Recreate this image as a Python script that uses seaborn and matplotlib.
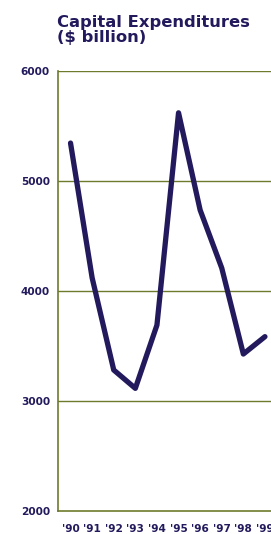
"""Capital expenditures line chart, 1990-1999."""

import matplotlib.pyplot as plt
import pandas as pd
import seaborn as sns

YEARS = ["'90", "'91", "'92", "'93", "'94", "'95", "'96", "'97", "'98", "'99"]
CAPEX = [5345, 4120, 3282, 3115, 3690, 5620, 4736, 4209, 3427, 3585]
Y_TICKS = [2000, 3000, 4000, 5000, 6000]

NAVY = "#221a5c"
OLIVE = "#6e7a2c"


def main() -> None:
    sns.set_theme(style="white")
    plt.rcParams["font.family"] = ["DejaVu Sans"]

    df = pd.DataFrame({"pos": range(len(YEARS)), "capex": CAPEX})

    fig = plt.figure(figsize=(2.71, 5.34), dpi=100)
    ax = fig.add_axes([58 / 271, 1 - 511 / 534, 1 - 58 / 271, (511 - 71) / 534])
    sns.lineplot(data=df, x="pos", y="capex", ax=ax, color=NAVY, linewidth=3.8,
                 solid_capstyle="round", solid_joinstyle="round")

    ax.set_ylim(2000, 6000)
    ax.set_xlim(-0.58, 9.28)
    ax.set_yticks(Y_TICKS)
    ax.set_xticks(range(len(YEARS)))
    ax.set_xticklabels(YEARS)
    ax.set_xlabel("")
    ax.set_ylabel("")

    for y in Y_TICKS[1:]:
        ax.axhline(y, color=OLIVE, linewidth=1.0, zorder=0)

    for side in ["top", "right"]:
        ax.spines[side].set_visible(False)
    for side in ["left", "bottom"]:
        ax.spines[side].set_color(OLIVE)
        ax.spines[side].set_linewidth(1.2)

    ax.tick_params(axis="x", direction="out", length=6, width=1, color=OLIVE,
                   pad=3.5, labelsize=7.6, labelcolor=NAVY)
    ax.tick_params(axis="y", length=0, pad=5.8, labelsize=7.6, labelcolor=NAVY)
    for lab in ax.get_xticklabels() + ax.get_yticklabels():
        lab.set_fontweight("bold")

    fig.text(57 / 271, 1 - 15 / 534, "Capital Expenditures\n($ billion)",
             ha="left", va="top", fontsize=11.8, fontweight="bold", color=NAVY,
             linespacing=1.0)

    fig.savefig("out.png", dpi=100)
    plt.close(fig)


if __name__ == "__main__":
    main()
